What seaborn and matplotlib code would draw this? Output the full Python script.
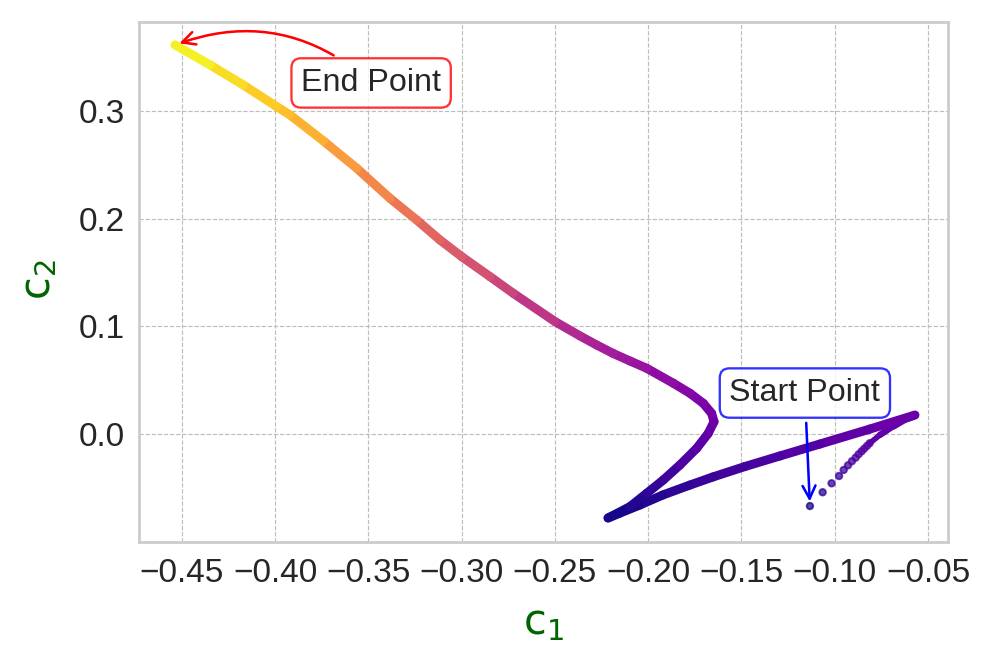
import numpy as np
import matplotlib
matplotlib.use("Agg")
import matplotlib.pyplot as plt
import seaborn as sns
from matplotlib.collections import LineCollection

# first samples of the trajectory, far apart so they show as single dots
c1_start = [-0.1133, -0.1065, -0.1017, -0.0977, -0.0952, -0.0929, -0.0908,
            -0.0888, -0.0872, -0.0856, -0.0842, -0.0827, -0.0813]
c2_start = [-0.0669, -0.0541, -0.0458, -0.0390, -0.0334, -0.0291, -0.0253,
            -0.0220, -0.0188, -0.0161, -0.0136, -0.0111, -0.0086]

# rest of the trajectory (dense part)
c1_path = [-0.0813, -0.0758, -0.0686, -0.0615, -0.0570,
           -0.0811, -0.1079, -0.1294, -0.1481, -0.1653, -0.1776, -0.1921,
           -0.2044, -0.2151, -0.2215,
           -0.2098, -0.2008, -0.1919, -0.1830, -0.1740, -0.1678, -0.1647,
           -0.1660, -0.1705, -0.1776, -0.1865, -0.2008, -0.2098, -0.2187,
           -0.2276, -0.2365, -0.2499, -0.2723, -0.2848, -0.2999, -0.3116,
           -0.3241, -0.3384, -0.3562, -0.3741, -0.3920, -0.3991, -0.4170,
           -0.4348, -0.4536]
c2_path = [-0.0086, -0.0009, 0.0074, 0.0146, 0.0176,
           0.0046, -0.0093, -0.0204, -0.0302, -0.0399, -0.0474, -0.0566,
           -0.0659, -0.0734, -0.0780,
           -0.0675, -0.0551, -0.0427, -0.0288, -0.0133, 0.0006, 0.0114,
           0.0192, 0.0285, 0.0378, 0.0471, 0.0610, 0.0678, 0.0747,
           0.0826, 0.0910, 0.1043, 0.1306, 0.1461, 0.1646, 0.1801,
           0.1987, 0.2188, 0.2467, 0.2721, 0.2962, 0.3039, 0.3240,
           0.3426, 0.3612]

x_ticks = [-0.45, -0.40, -0.35, -0.30, -0.25, -0.20, -0.15, -0.10, -0.05]
y_ticks = [0.0, 0.1, 0.2, 0.3]

sns.set_theme(style="whitegrid")
plt.rcParams['font.family'] = ['Liberation Sans', 'DejaVu Sans']

c2_min = min(c2_start + c2_path)
c2_max = max(c2_start + c2_path)
norm = plt.Normalize(c2_min, c2_max)
cmap = plt.get_cmap('plasma')

fig, ax = plt.subplots(figsize=(6, 4), dpi=166)
fig.subplots_adjust(left=0.1396, right=0.9518, top=0.9669, bottom=0.1842)

# dense part as a thick line coloured by c2
pts = np.column_stack([c1_path, c2_path])
segs = np.stack([pts[:-1], pts[1:]], axis=1)
mid_c2 = (np.array(c2_path[:-1]) + np.array(c2_path[1:])) / 2
widths = [2.4, 2.8, 3.2, 3.6] + [3.9] * (len(segs) - 4)
lc = LineCollection(segs, colors=cmap(norm(mid_c2)), linewidths=widths,
                    capstyle='round', joinstyle='round')
ax.add_collection(lc)

# sparse start samples
sns.scatterplot(x=c1_start, y=c2_start, hue=c2_start, palette='plasma',
                hue_norm=(c2_min, c2_max), s=8, alpha=0.75, linewidth=0.8,
                legend=False, ax=ax)
for coll in ax.collections[1:]:
    coll.set_edgecolor('face')

ax.set_xlim(-0.4729, -0.0393)
ax.set_ylim(-0.100, 0.3825)
ax.set_xticks(x_ticks)
ax.set_yticks(y_ticks)

ax.grid(True, linestyle='--', linewidth=0.5, color='#bdbdbd')
for sp in ax.spines.values():
    sp.set_color('#cccccc')
    sp.set_linewidth(1.2)

ax.tick_params(axis='both', labelsize=14.5, length=0)
ax.tick_params(axis='y', pad=6)
ax.tick_params(axis='x', pad=7)
ax.set_xlabel(r'$\mathrm{c}_1$', fontsize=18, color='darkgreen')
ax.set_ylabel(r'$\mathrm{c}_2$', fontsize=18, color='darkgreen')
ax.xaxis.set_label_coords(0.5, -0.118)
ax.yaxis.set_label_coords(-0.099, 0.505)

ax.annotate('Start Point', xy=(c1_start[0], c2_start[0]), xytext=(-0.116, 0.038),
            fontsize=14, ha='center', va='center', color='#262626',
            bbox=dict(boxstyle='round,pad=0.3', fc='white', ec='blue', alpha=0.8),
            arrowprops=dict(arrowstyle='->', color='blue', lw=1.1))
ax.annotate('End Point', xy=(c1_path[-1], c2_path[-1]), xytext=(-0.3485, 0.3259),
            fontsize=14, ha='center', va='center', color='#262626',
            bbox=dict(boxstyle='round,pad=0.3', fc='white', ec='red', alpha=0.8),
            arrowprops=dict(arrowstyle='->', color='red', lw=1.1,
                            connectionstyle='arc3,rad=0.3'))

fig.savefig('out.png', dpi=166)
